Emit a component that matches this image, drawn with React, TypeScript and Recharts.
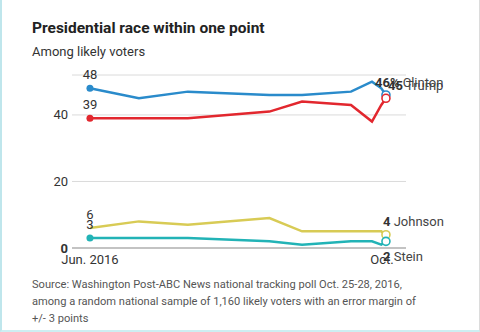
import { LineChart, Line, XAxis, YAxis, CartesianGrid, ReferenceLine } from "recharts";

// Days since Jun. 23, 2016 for each poll reading.
const days = [0, 21, 42, 77, 91, 112, 121, 125, 127];
const clinton = [48, 45, 47, 46, 46, 47, 50, 48, 46];
const trump = [39, 39, 39, 41, 44, 43, 38, 43, 45];
const johnson = [6, 8, 7, 9, 5, 5, 5, 5, 4];
const stein = [3, 3, 3, 2, 1, 2, 2, 1, 2];
const xTicks = [0, 127];
const xTickLabels = ["Jun. 2016", "Oct."];
const yTicks = [0, 20, 40];

const FONT = "Roboto, 'Liberation Sans', sans-serif";
const INK = "#333";

const series = [
  { key: "clinton", name: "Clinton", color: "#2a8bcb", startDot: true, end: { dx: -11, dy: -12, pct: true } },
  { key: "trump", name: "Trump", color: "#e2272e", startDot: true, end: { dx: 2, dy: -13, pct: false } },
  { key: "johnson", name: "Johnson", color: "#d8cb55", startDot: false, end: { dx: -3, dy: -13, pct: false } },
  { key: "stein", name: "Stein", color: "#22b3b6", startDot: true, end: { dx: -3, dy: 15, pct: false } },
];

const data = days.map((d, i) => ({
  day: d,
  clinton: clinton[i],
  trump: trump[i],
  johnson: johnson[i],
  stein: stein[i],
}));

const last = days.length - 1;

type S = (typeof series)[number];

function makeDot(s: S) {
  return (p: any) => {
    const { cx, cy, index } = p;
    if (index === 0 && s.startDot)
      return <circle key={`d${index}`} cx={cx} cy={cy} r={3.5} fill={s.color} stroke="none" />;
    if (index === last)
      return <circle key={`d${index}`} cx={cx} cy={cy} r={4} fill="#fff" stroke={s.color} strokeWidth={1.6} />;
    return <g key={`d${index}`} />;
  };
}

function makeLabel(s: S) {
  return (p: any) => {
    const { x, y, index, value } = p;
    if (index === 0) {
      return (
        <text key={`l${index}`} x={x} y={y - 9} textAnchor="middle" fontSize={13} fill={INK} fontFamily={FONT}>
          {value}
        </text>
      );
    }
    if (index === last) {
      return (
        <text key={`l${index}`} x={x + s.end.dx} y={y + s.end.dy + 4.5} fontSize={13} fill={INK} fontFamily={FONT}>
          <tspan fontWeight={700}>{value}{s.end.pct ? "%" : ""}</tspan>
          <tspan fill="#444"> {s.name}</tspan>
        </text>
      );
    }
    return <g key={`l${index}`} />;
  };
}

const XTick = (p: any) => {
  const i = xTicks.indexOf(p.payload.value);
  return (
    <text x={p.x + (i === 1 ? -4 : 0)} y={p.y + 14} textAnchor="middle" fontSize={13} fill={INK} fontFamily={FONT}>
      {xTickLabels[i]}
    </text>
  );
};

const YTick = (p: any) => (
  <text x={p.x} y={p.y + 4.5} textAnchor="end" fontSize={13} fill={INK} fontFamily={FONT} fontWeight={p.payload.value === 0 ? 700 : 400}>
    {p.payload.value}
  </text>
);

export default function App() {
  return (
    <div
      style={{
        position: "absolute",
        left: 0,
        top: 0,
        width: 480,
        height: 332,
        background: "#fff",
        overflow: "hidden",
        fontFamily: FONT,
        boxSizing: "border-box",
        borderLeft: "2px solid #bfe6ec",
        borderRight: "1px solid #dcdcdc",
        borderBottom: "2px solid #cdeef2",
      }}
    >
      <div style={{ position: "absolute", left: 30, top: 19, fontSize: 15.5, fontWeight: 700, color: "#222" }}>
        Presidential race within one point
      </div>
      <div style={{ position: "absolute", left: 30, top: 44, fontSize: 13, color: INK }}>Among likely voters</div>
      <div style={{ position: "absolute", left: -2, top: 0 }}>
        <LineChart width={480} height={270} data={data} margin={{ top: 75, right: 74, left: 32, bottom: 0 }}>
          <CartesianGrid horizontal vertical={false} stroke="#dadada" />
          <ReferenceLine y={0} stroke="#999" strokeWidth={1} />
          <XAxis
            dataKey="day"
            type="number"
            domain={[-7.7, 135.6]}
            ticks={xTicks}
            tick={<XTick />}
            tickLine={false}
            axisLine={false}
            tickSize={0}
            height={22}
            interval={0}
          />
          <YAxis
            type="number"
            domain={[0, 52]}
            ticks={yTicks}
            tick={<YTick />}
            tickLine={false}
            axisLine={false}
            tickSize={0}
            tickMargin={4}
            width={40}
            interval={0}
          />
          {series.map((s) => (
            <Line
              key={s.key}
              dataKey={s.key}
              type="linear"
              stroke={s.color}
              strokeWidth={2.5}
              dot={makeDot(s)}
              activeDot={false}
              label={makeLabel(s)}
              isAnimationActive={false}
            />
          ))}
        </LineChart>
      </div>
      <div style={{ position: "absolute", left: 30, top: 276, fontSize: 11.1, lineHeight: "17px", color: "#555" }}>
        Source: Washington Post-ABC News national tracking poll Oct. 25-28, 2016,
        <br />
        among a random national sample of 1,160 likely voters with an error margin of
        <br />
        +/- 3 points
      </div>
    </div>
  );
}
